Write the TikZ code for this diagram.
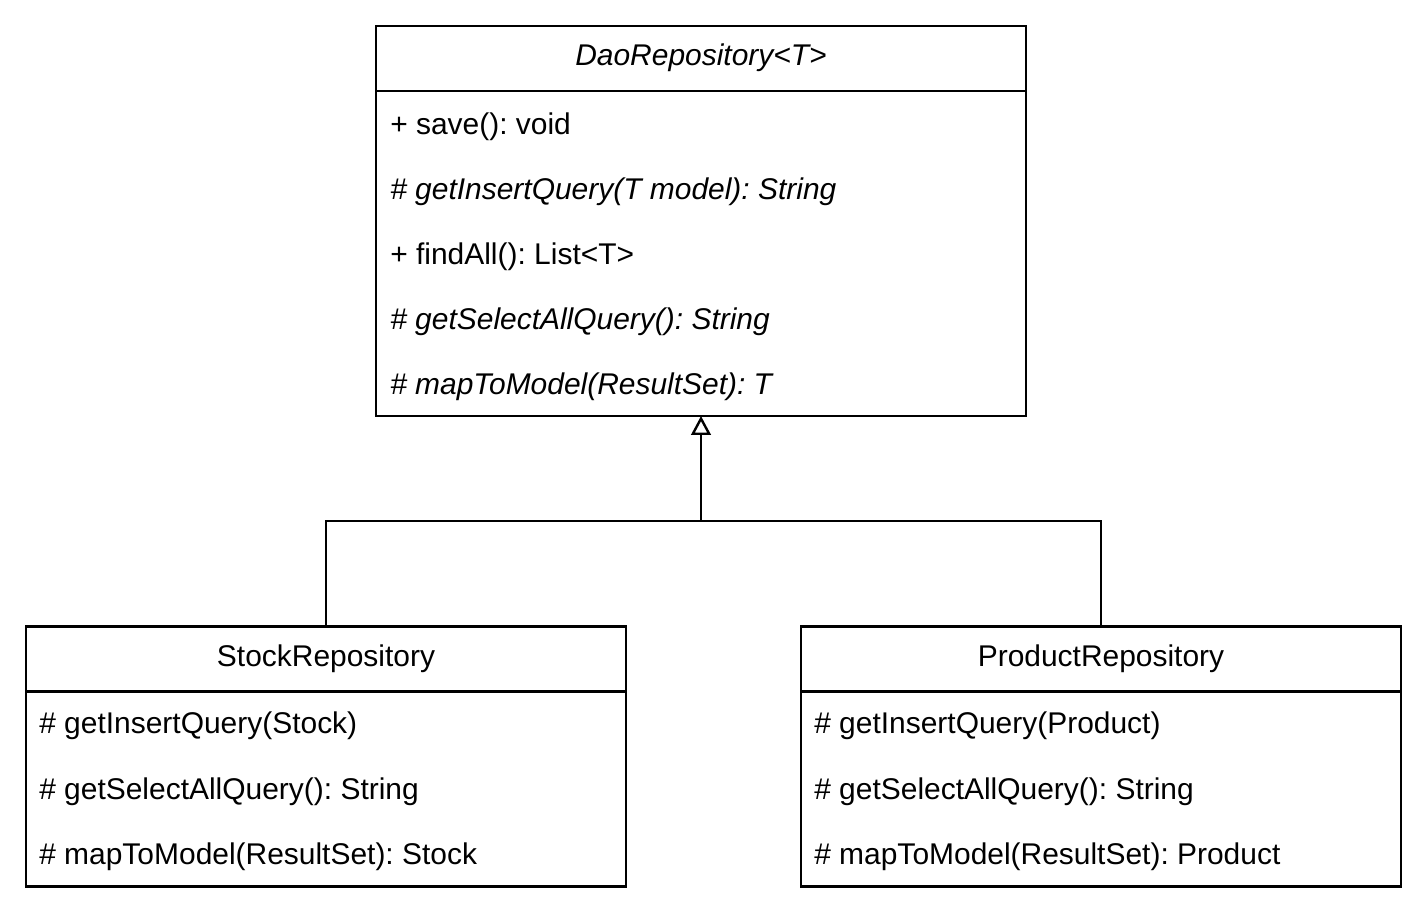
\documentclass[tikz,border=0pt]{standalone}
\usepackage{fontspec}
\setmainfont{Liberation Sans}
\usetikzlibrary{arrows.meta}

\tikzset{
  classhead/.style={draw, line width=1.7pt, minimum height=65*0.025cm, inner sep=0pt, outer sep=0pt},
  classbody/.style={draw, line width=1.7pt, inner sep=0pt, outer sep=0pt},
  member/.style={anchor=west, inner sep=0pt},
  inherit/.style={-{Triangle[open, length=13.5pt, width=14pt]}, line width=1.7pt},
}

\begin{document}
\frenchspacing
\begin{tikzpicture}[x=0.025cm, y=-0.025cm, font=\fontsize{21.3}{25}\selectfont]
   \useasboundingbox (0,0) rectangle (1428,920);

   % abstract base class
   \node[classhead, minimum width=650*0.025cm] (daoHead) at (701,58.5) {\itshape\strut DaoRepository<T>};
   \node[classbody, minimum width=650*0.025cm, minimum height=325*0.025cm, anchor=north] (daoBody) at (daoHead.south) {};
   \node[member] (daoSave) at (390,127) {+ save(): void};
   \node[member] (daoInsert) at (390,192) {\itshape \# getInsertQuery(T model): String};
   \node[member] (daoFind) at (390,257) {+ findAll(): List<T>};
   \node[member] (daoSelect) at (390,322) {\itshape \# getSelectAllQuery(): String};
   \node[member] (daoMap) at (390,387) {\itshape \# mapToModel(ResultSet): T};

   % subclasses
   \node[classhead, minimum width=600*0.025cm] (stockHead) at (326,659) {\strut StockRepository};
   \node[classbody, minimum width=600*0.025cm, minimum height=195*0.025cm, anchor=north] (stockBody) at (stockHead.south) {};
   \node[member] (stockInsert) at (39,726) {\# getInsertQuery(Stock)};
   \node[member] (stockSelect) at (39,792) {\# getSelectAllQuery(): String};
   \node[member] (stockMap) at (39,857) {\# mapToModel(ResultSet): Stock};

   \node[classhead, minimum width=600*0.025cm] (productHead) at (1101,659) {\strut ProductRepository};
   \node[classbody, minimum width=600*0.025cm, minimum height=195*0.025cm, anchor=north] (productBody) at (productHead.south) {};
   \node[member] (productInsert) at (814,726) {\# getInsertQuery(Product)};
   \node[member] (productSelect) at (814,792) {\# getSelectAllQuery(): String};
   \node[member] (productMap) at (814,857) {\# mapToModel(ResultSet): Product};

   % generalization
   \coordinate (join) at (701,521);
   \draw[inherit] (join) -- (daoBody.south);
   \draw[line width=1.7pt] (stockHead.north) |- (join) -| (productHead.north);
\end{tikzpicture}
\end{document}
